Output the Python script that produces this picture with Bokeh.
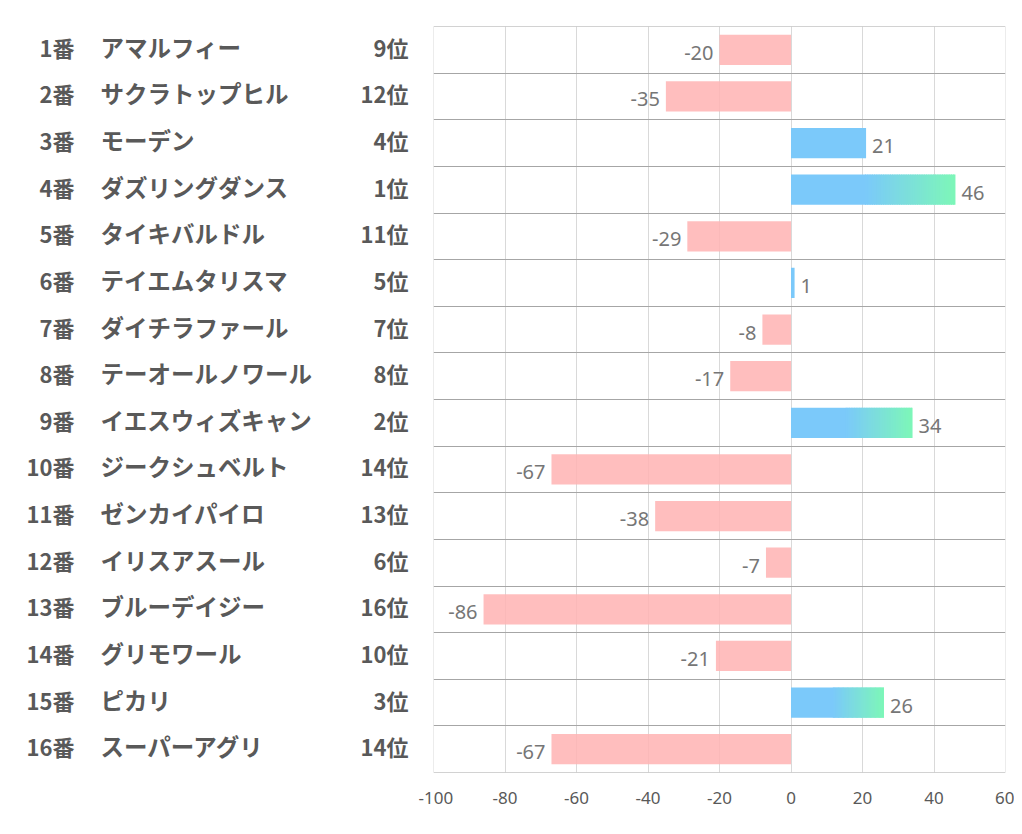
from bokeh.plotting import figure
from bokeh.layouts import row
from bokeh.models import Range1d, FixedTicker, ColumnDataSource, Span
from bokeh.core.properties import value
from bokeh.embed import file_html
from bokeh.resources import INLINE

numbers = [f"{i}番" for i in range(1, 17)]
names = ["アマルフィー", "サクラトップヒル", "モーデン", "ダズリングダンス", "タイキバルドル",
         "テイエムタリスマ", "ダイチラファール", "テーオールノワール", "イエスウィズキャン",
         "ジークシュベルト", "ゼンカイパイロ", "イリスアスール", "ブルーデイジー",
         "グリモワール", "ピカリ", "スーパーアグリ"]
ranks = [9, 12, 4, 1, 11, 5, 7, 8, 2, 14, 13, 6, 16, 10, 3, 14]
values = [-20, -35, 21, 46, -29, 1, -8, -17, 34, -67, -38, -7, -86, -21, 26, -67]
x_ticks = [-100, -80, -60, -40, -20, 0, 20, 40, 60]

PINK = "#FFB3B3"
BLUE = "#7BC9FA"
GREEN = "#7DF7B8"
JP = "Noto Sans CJK JP"
LABEL_COLOR = "#595959"
VAL_COLOR = "#767676"

n = len(values)
ys = [i + 0.5 for i in range(n)]
yr = Range1d(n, 0)

H = 826
TOP, BOTTOM = 26, 54

# ---- left table ----
left = figure(width=418, height=H, x_range=Range1d(0, 418), y_range=yr,
              output_backend="svg", toolbar_location=None,
              min_border_left=0, min_border_right=0,
              min_border_top=TOP, min_border_bottom=BOTTOM)
left.axis.visible = False
left.grid.visible = False
left.outline_line_color = None

src = ColumnDataSource(dict(y=ys, num=numbers, name=names,
                            rank=[f"{r}位" for r in ranks]))
common = dict(source=src, text_baseline="middle", y_offset=-3, text_font=value(JP),
              text_font_style="bold", text_color=LABEL_COLOR)
left.text(x=74, y="y", text="num", text_align="right", text_font_size="22px", **common)
left.text(x=100, y="y", text="name", text_align="left", text_font_size="23.5px", **common)
left.text(x=408, y="y", text="rank", text_align="right", text_font_size="22px", **common)

# ---- right chart ----
p = figure(width=596, height=H, x_range=Range1d(-100, 60), y_range=yr,
           output_backend="svg", toolbar_location=None,
           min_border_left=15, min_border_right=9,
           min_border_top=TOP, min_border_bottom=BOTTOM)
p.outline_line_color = None
p.yaxis.visible = False
p.xaxis.ticker = FixedTicker(ticks=x_ticks)
p.xaxis.major_label_overrides = {t: str(t) for t in x_ticks}
p.xaxis.axis_line_color = None
p.xaxis.major_tick_line_color = None
p.xaxis.minor_tick_line_color = None
p.xaxis.major_label_text_color = LABEL_COLOR
p.xaxis.major_label_text_font = "Noto Sans"
p.xaxis.major_label_text_font_size = "17px"
p.xaxis.major_label_standoff = 13
p.xgrid.ticker = FixedTicker(ticks=x_ticks)
p.xgrid.grid_line_color = "#D9D9D9"
p.ygrid.ticker = FixedTicker(ticks=list(range(n + 1)))
p.ygrid.grid_line_color = "#A6A6A6"

# frame edges
p.add_layout(Span(location=x_ticks[0], dimension="height", line_color="#D9D9D9", line_width=1))
p.add_layout(Span(location=x_ticks[-1], dimension="height", line_color="#D9D9D9", line_width=1))
p.add_layout(Span(location=0, dimension="width", line_color="#A6A6A6", line_width=1))
p.add_layout(Span(location=n, dimension="width", line_color="#A6A6A6", line_width=1))

BH = 0.65

def hex2rgb(h):
    h = h.lstrip("#")
    return tuple(int(h[i:i + 2], 16) for i in (0, 2, 4))

def mix(c1, c2, t):
    a, b = hex2rgb(c1), hex2rgb(c2)
    return "#%02X%02X%02X" % tuple(round(a[i] + (b[i] - a[i]) * t) for i in range(3))

# negative bars
neg = [(y, v) for y, v in zip(ys, values) if v < 0]
p.hbar(y=[a for a, _ in neg], left=[b for _, b in neg], right=0, height=BH,
       fill_color=PINK, fill_alpha=0.85, line_color=None)

# positive bars: plain blue, top-3 ranks get gradient to green
plain = [(y, v) for y, v, r in zip(ys, values, ranks) if v >= 0 and r > 3]
p.hbar(y=[a for a, _ in plain], right=[b for _, b in plain], left=0, height=BH,
       fill_color=BLUE, fill_alpha=1, line_color=None)

gy, gl, gr, gc = [], [], [], []
STEPS = 40
START = 0.45
for y, v, r in zip(ys, values, ranks):
    if v > 0 and r <= 3:
        gy.append(y); gl.append(0); gr.append(v * START + 0.3); gc.append(BLUE)
        for k in range(STEPS):
            t0 = START + (1 - START) * k / STEPS
            t1 = START + (1 - START) * (k + 1) / STEPS
            gy.append(y); gl.append(v * t0)
            gr.append(min(v, v * t1 + 0.3))
            gc.append(mix(BLUE, GREEN, (k + 0.5) / STEPS))
p.hbar(y=gy, left=gl, right=gr, height=BH, fill_color=gc, fill_alpha=1,
       line_color=None)

# value labels
vsrc_neg = ColumnDataSource(dict(x=[v for v in values if v < 0],
                                 y=[y for y, v in zip(ys, values) if v < 0],
                                 t=[str(v) for v in values if v < 0]))
vsrc_pos = ColumnDataSource(dict(x=[v for v in values if v >= 0],
                                 y=[y for y, v in zip(ys, values) if v >= 0],
                                 t=[str(v) for v in values if v >= 0]))
p.text(x="x", y="y", text="t", source=vsrc_neg, text_align="right",
       text_baseline="middle", x_offset=-6, y_offset=3, text_font=value("Noto Sans"),
       text_font_size="20px", text_color=VAL_COLOR)
p.text(x="x", y="y", text="t", source=vsrc_pos, text_align="left",
       text_baseline="middle", x_offset=6, y_offset=3, text_font=value("Noto Sans"),
       text_font_size="20px", text_color=VAL_COLOR)

layout = row(left, p, spacing=0)
open("out.html", "w").write(file_html(layout, INLINE))
